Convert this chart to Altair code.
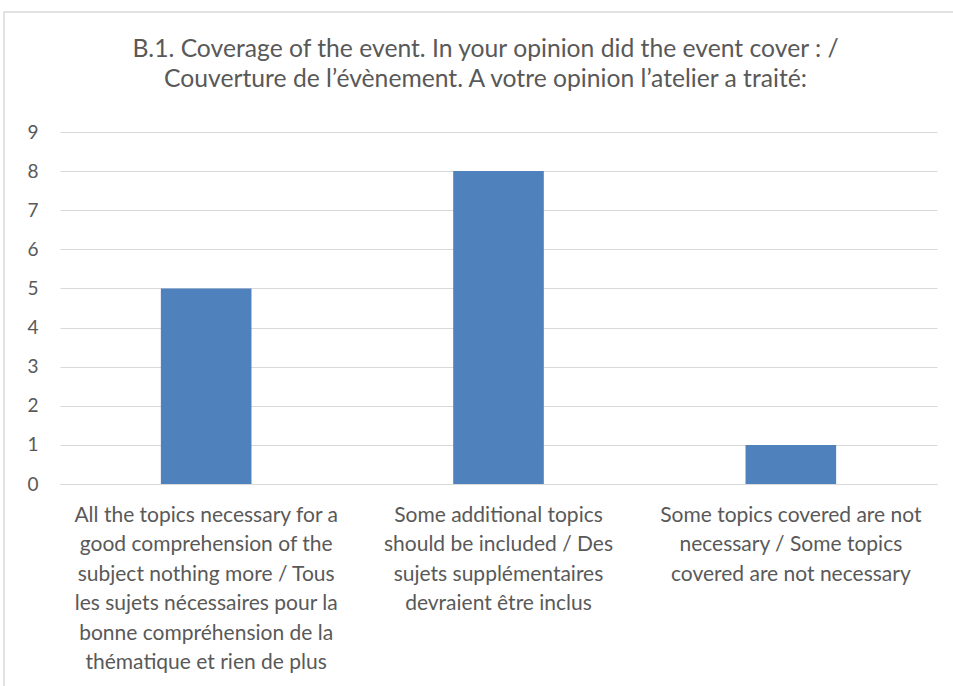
import altair as alt
import pandas as pd

categories = [
    "All the topics necessary for a\ngood comprehension of the\nsubject nothing more / Tous\nles sujets nécessaires pour la\nbonne compréhension de la\nthématique et rien de plus",
    "Some additional topics\nshould be included / Des\nsujets supplémentaires\ndevraient être inclus",
    "Some topics covered are not\nnecessary / Some topics\ncovered are not necessary",
]
counts = [5, 8, 1]
y_ticks = [0, 1, 2, 3, 4, 5, 6, 7, 8, 9]
title_lines = [
    "B.1. Coverage of the event. In your opinion did the event cover :  /",
    "Couverture de l\u2019évènement. A votre opinion l\u2019atelier a traité:",
]

df = pd.DataFrame({"cat": categories, "n": counts})

FONT = "Lato, Carlito, Open Sans, sans-serif"
GREY = "#595959"
W, H = 877, 352

bars = alt.Chart(df).mark_bar(color="#4f81bd").encode(
    x=alt.X(
        "cat:N",
        sort=categories,
        title=None,
        scale=alt.Scale(paddingInner=0.69, paddingOuter=0.345),
        axis=alt.Axis(
            labelAngle=0,
            labelExpr="split(datum.label, '\\n')",
            labelFont=FONT,
            labelFontSize=21,
            labelColor=GREY,
            labelLineHeight=29.5,
            labelPadding=20,
            labelBaseline="top",
            ticks=False,
            domainColor="#d9d9d9",
            labelLimit=400,
        ),
    ),
    y=alt.Y(
        "n:Q",
        title=None,
        scale=alt.Scale(domain=[0, 9]),
        axis=alt.Axis(
            values=y_ticks,
            labelFont=FONT,
            labelFontSize=19,
            labelColor=GREY,
            labelPadding=22,
            ticks=False,
            domain=False,
            gridColor="#d9d9d9",
            gridWidth=1,
        ),
    ),
)

frame = alt.Chart(alt.Data(values=[{"a": 1}])).mark_rect(
    fill=None, stroke="#d9d9d9", strokeWidth=1.5
).encode(
    x=alt.value(-56), x2=alt.value(W + 40),
    y=alt.value(-120), y2=alt.value(H + 240),
)

title1 = alt.Chart(alt.Data(values=[{"t": title_lines[0]}])).mark_text(
    font=FONT, fontSize=24.7, color=GREY, align="center", baseline="alphabetic"
).encode(text="t:N", x=alt.value(W / 2 - 13), y=alt.value(-75))

title2 = alt.Chart(alt.Data(values=[{"t": title_lines[1]}])).mark_text(
    font=FONT, fontSize=24.7, color=GREY, align="center", baseline="alphabetic"
).encode(text="t:N", x=alt.value(W / 2 - 13), y=alt.value(-45))

chart = alt.layer(frame, bars, title1, title2).properties(
    width=W,
    height=H,
    autosize=alt.AutoSizeParams(type="none"),
    padding={"left": 60, "top": 132, "right": 16, "bottom": 202},
).configure_view(stroke=None)

chart.save("out.html", embed_options={"renderer": "svg", "actions": False})
